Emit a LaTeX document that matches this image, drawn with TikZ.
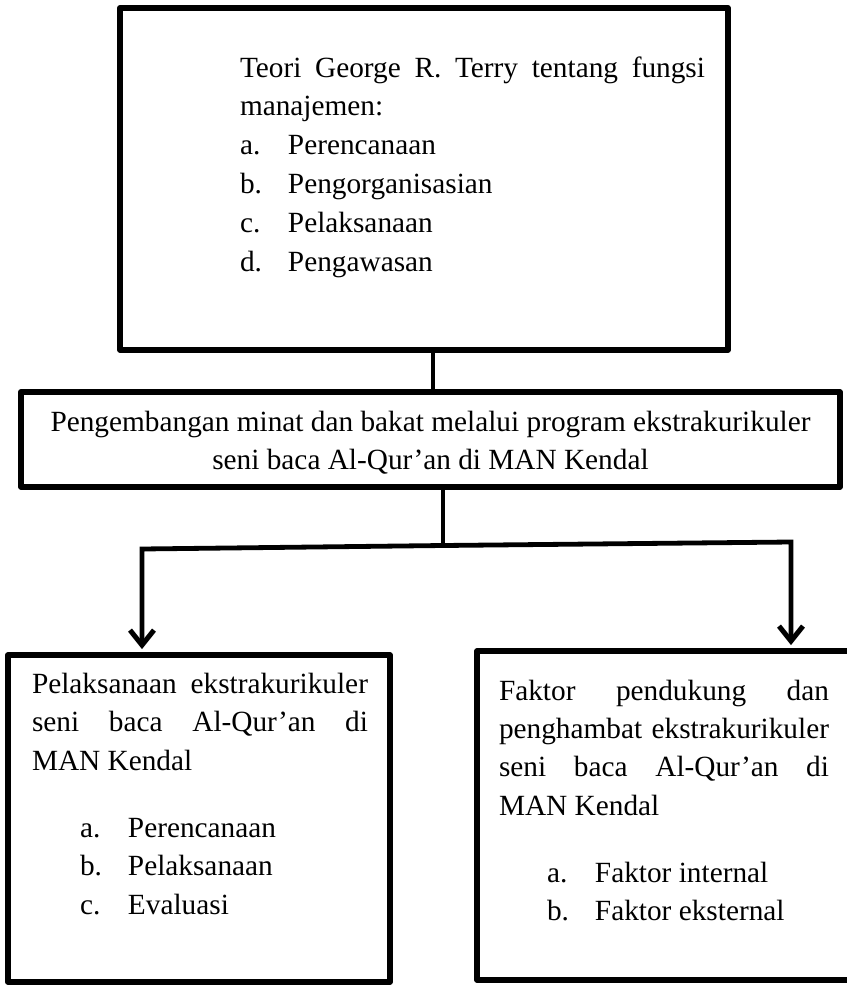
\documentclass[tikz,border=0pt]{standalone}
\usepackage{fontspec}
\setmainfont{Liberation Serif}
\usetikzlibrary{arrows.meta}
\tikzset{
  box/.style={draw=black, line width=5.8pt, rectangle, inner sep=0pt, line join=round},
  conn/.style={draw=black, line width=4.8pt},
  arr/.style={conn, -{Straight Barb[length=15pt,width=24pt,line width=5pt]}, shorten >=3pt},
  txt/.style={inner sep=0pt, outer sep=0pt},
}
\newcommand{\bodyfont}[1]{\fontsize{29.3pt}{#1}\selectfont}
\newcommand{\lab}[2]{\makebox[48pt][l]{#1}#2}
\begin{document}
\begin{tikzpicture}[x=1pt,y=-1pt]
\useasboundingbox[fill=white] (0,0) rectangle (846,985);

% boxes
\node[box, minimum width=608pt, minimum height=342pt] (topbox) at (424,179) {};
\node[box, minimum width=819pt, minimum height=95pt] (midbox) at (430.5,439.5) {};
\node[box, minimum width=382pt, minimum height=327pt] (leftbox) at (199,818.5) {};
\node[box, minimum width=376pt, minimum height=329pt] (rightbox) at (665,815.5) {};

% texts
\node[txt, anchor=base west] (toptext) at (240,77) {\parbox[t]{465pt}{\bodyfont{38.8pt}%
\makebox[\linewidth][s]{Teori George R. Terry tentang fungsi}\\
manajemen:\\
\lab{a.}{Perencanaan}\\
\lab{b.}{Pengorganisasian}\\
\lab{c.}{Pelaksanaan}\\
\lab{d.}{Pengawasan}}};

\node[txt, anchor=base] (midtext) at (430.5,431) {\parbox[t]{800pt}{\centering\bodyfont{38pt}%
Pengembangan minat dan bakat melalui program ekstrakurikuler\\
seni baca Al-Qur’an di MAN Kendal}};

\node[txt, anchor=base west] (lefttext) at (32,693) {\parbox[t]{336pt}{\bodyfont{38.5pt}%
\makebox[\linewidth][s]{Pelaksanaan ekstrakurikuler}\\
\makebox[\linewidth][s]{seni baca Al-Qur’an di}\\
MAN Kendal\\[28.5pt]
\hspace*{48pt}\lab{a.}{Perencanaan}\\
\hspace*{48pt}\lab{b.}{Pelaksanaan}\\
\hspace*{48pt}\lab{c.}{Evaluasi}}};

\node[txt, anchor=base west] (righttext) at (499,700) {\parbox[t]{330pt}{\bodyfont{38.4pt}%
\makebox[\linewidth][s]{Faktor pendukung dan}\\
\makebox[\linewidth][s]{penghambat ekstrakurikuler}\\
\makebox[\linewidth][s]{seni baca Al-Qur’an di}\\
MAN Kendal\\[28.5pt]
\hspace*{48pt}\lab{a.}{Faktor internal}\\
\hspace*{48pt}\lab{b.}{Faktor eksternal}}};

% connectors
\coordinate (c1) at (433,0);
\coordinate (c2) at (443,0);
\coordinate (jn) at (443,545.5);
\coordinate (jl) at (142,549);
\coordinate (jr) at (791,542);

\draw[conn] (topbox.south -| c1) -- (midbox.north -| c1);
\draw[conn] (midbox.south -| c2) -- (jn);
\draw[arr] (jn) -- (jl) -- (leftbox.north -| jl);
\draw[arr] (jn) -- (jr) -- (rightbox.north -| jr);
\end{tikzpicture}
\end{document}
